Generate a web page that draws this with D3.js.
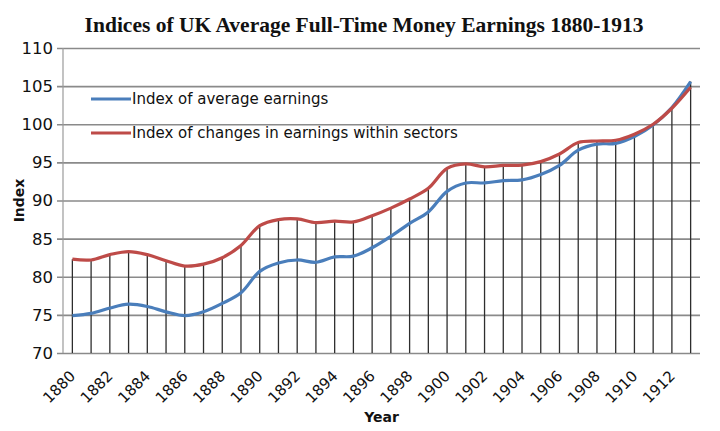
<!DOCTYPE html>
<html>
<head>
<meta charset="utf-8">
<script src="https://cdn.jsdelivr.net/npm/d3@7"></script>
<style>
  body { margin: 0; background: #fff; }
  text { font-family: 'DejaVu Sans', sans-serif; fill: #111; }
</style>
</head>
<body>
<svg id="chart" width="720" height="431"></svg>
<script>
// years on the category axis, every other one gets a label
const years = d3.range(1880, 1914)
const tickYears = d3.range(1880, 1914, 2)
const yTicks = [70, 75, 80, 85, 90, 95, 100, 105, 110]

const avgEarnings = [74.9, 75.2, 75.9, 76.4, 76.1, 75.4, 74.9, 75.4, 76.5, 77.9,
  80.7, 81.8, 82.2, 81.9, 82.6, 82.7, 83.8, 85.3, 87.0, 88.5,
  91.2, 92.3, 92.3, 92.6, 92.7, 93.4, 94.6, 96.6, 97.4, 97.5,
  98.4, 99.9, 102.2, 105.6]
const sectorEarnings = [82.3, 82.2, 82.9, 83.3, 82.9, 82.1, 81.4, 81.65, 82.5, 84.1,
  86.7, 87.5, 87.6, 87.1, 87.3, 87.2, 88.0, 89.0, 90.2, 91.6,
  94.2, 94.8, 94.4, 94.6, 94.65, 95.1, 96.1, 97.6, 97.8, 97.9,
  98.7, 100.0, 102.1, 104.85]

const seriesNames = ['Index of average earnings', 'Index of changes in earnings within sectors']
const seriesColors = ['#4a7ebb', '#be4b48']

var svg = d3.select('#chart')

var margin = {top: 48, right: 20, bottom: 78, left: 63},
  width = 720 - margin.left - margin.right,
  height = 431 - margin.top - margin.bottom

var g = svg.append('g').attr('transform', 'translate(' + margin.left + ',' + margin.top + ')')

var x = d3.scaleBand()
  .domain(years)
  .range([0, width])
  .padding(0)

var y = d3.scaleLinear()
  .domain([70, 110])
  .range([height, 0])

function cx(yr) { return x(yr) + x.bandwidth() / 2 }

// horizontal gridlines + left tick marks
g.append('g')
  .call(d3.axisLeft(y).tickValues(yTicks).tickSize(-width - 6).tickFormat(''))
  .call(function(a) {
    a.select('.domain').remove()
    a.selectAll('line').attr('x1', -6).attr('x2', width).attr('stroke', '#8a8a8a').attr('stroke-width', 1.6)
  })

// y tick labels
g.append('g')
  .selectAll('text')
  .data(yTicks)
  .enter().append('text')
  .attr('x', -10)
  .attr('y', function(d) { return y(d) })
  .attr('dy', '0.36em')
  .attr('text-anchor', 'end')
  .style('font-size', '16.5px')
  .text(function(d) { return d })

// vertical axis line
g.append('line')
  .attr('x1', 0).attr('x2', 0)
  .attr('y1', 0).attr('y2', height)
  .attr('stroke', '#9a9a9a')
  .attr('stroke-width', 1.2)

// drop lines from the top point of each year to the baseline
g.append('g')
  .selectAll('line')
  .data(years)
  .enter().append('line')
  .attr('x1', cx).attr('x2', cx)
  .attr('y1', function(d, i) { return y(Math.max(avgEarnings[i], sectorEarnings[i])) })
  .attr('y2', height)
  .attr('stroke', '#2e2e2e')
  .attr('stroke-width', 1.3)

// x labels
g.append('g')
  .selectAll('text')
  .data(tickYears)
  .enter().append('text')
  .attr('transform', function(d) { return 'translate(' + (cx(d) + 4) + ',' + (height + 24) + ') rotate(-45)' })
  .attr('text-anchor', 'end')
  .style('font-size', '15px')
  .text(function(d) { return d })

var line = d3.line()
  .x(function(d, i) { return cx(years[i]) })
  .y(function(d) { return y(d) })
  .curve(d3.curveCatmullRom)

g.selectAll('.series')
  .data([avgEarnings, sectorEarnings])
  .enter().append('path')
  .attr('class', 'series')
  .attr('d', line)
  .attr('fill', 'none')
  .attr('stroke', function(d, i) { return seriesColors[i] })
  .attr('stroke-width', 3.2)
  .attr('stroke-linejoin', 'round')

// legend
var legend = svg.append('g')
legend.selectAll('line')
  .data(seriesNames)
  .enter().append('line')
  .attr('x1', 91).attr('x2', 131)
  .attr('y1', function(d, i) { return 99 + i * 34 })
  .attr('y2', function(d, i) { return 99 + i * 34 })
  .attr('stroke', function(d, i) { return seriesColors[i] })
  .attr('stroke-width', 3.2)
legend.selectAll('text')
  .data(seriesNames)
  .enter().append('text')
  .attr('x', 132)
  .attr('y', function(d, i) { return 99 + i * 34 })
  .attr('dy', '0.36em')
  .style('font-size', '15px')
  .text(function(d) { return d })

// titles
svg.append('text')
  .attr('x', 364)
  .attr('y', 32)
  .attr('text-anchor', 'middle')
  .style('font-family', "'Liberation Serif', serif")
  .style('font-weight', 'bold')
  .style('font-size', '21.5px')
  .text('Indices of UK Average Full-Time Money Earnings 1880-1913')

svg.append('text')
  .attr('transform', 'translate(24,' + (margin.top + height / 2) + ') rotate(-90)')
  .attr('text-anchor', 'middle')
  .style('font-weight', 'bold')
  .style('font-size', '14px')
  .text('Index')

svg.append('text')
  .attr('x', margin.left + width / 2)
  .attr('y', 422)
  .attr('text-anchor', 'middle')
  .style('font-weight', 'bold')
  .style('font-size', '14px')
  .text('Year')
</script>
</body>
</html>
